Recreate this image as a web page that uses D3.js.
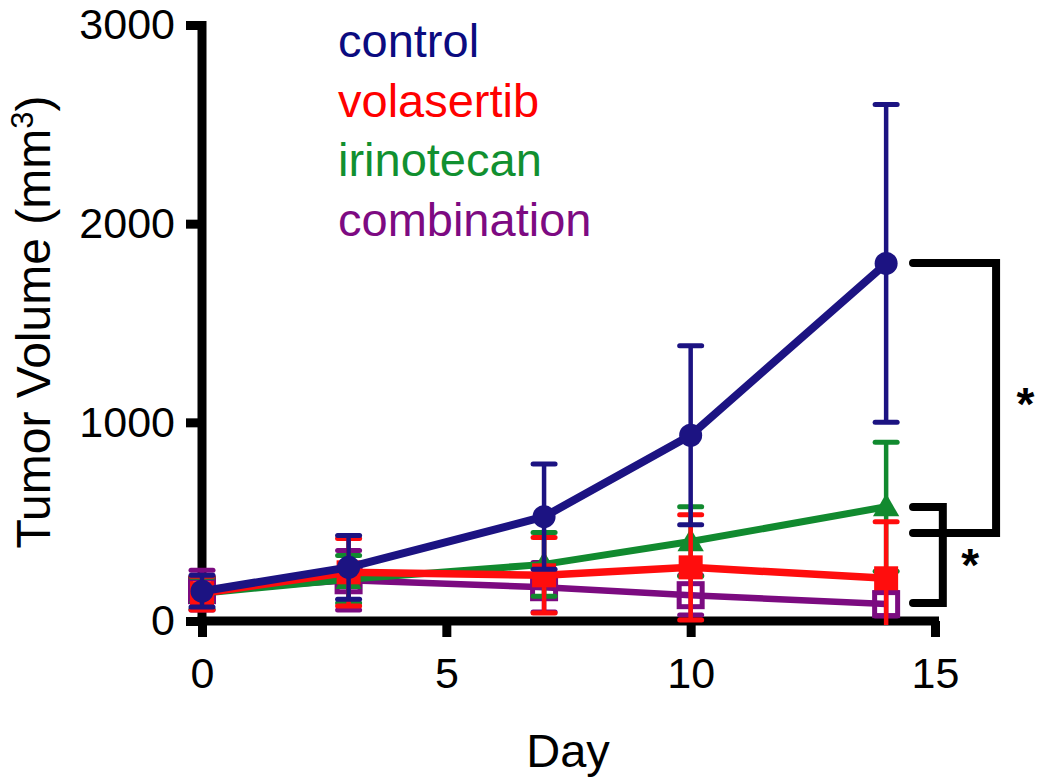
<!DOCTYPE html>
<html>
<head>
<meta charset="utf-8">
<script src="https://cdn.jsdelivr.net/npm/d3@7"></script>
<style>
  html, body { margin: 0; padding: 0; background: #fff; }
  svg { display: block; font-family: 'Liberation Sans', Arial, sans-serif; }
</style>
</head>
<body>
<div id="chart"></div>
<script>
const days = [0, 3, 7, 10, 14];
const controlMean = [150, 270, 525, 935, 1800];
const controlErr = [80, 160, 265, 450, 800];
const volasertibMean = [140, 245, 230, 270, 215];
const volasertibErr = [85, 170, 190, 265, 285];
const irinotecanMean = [140, 210, 285, 400, 575];
const irinotecanErr = [80, 120, 160, 175, 325];
const combinationMean = [155, 205, 170, 130, 85];
const combinationErr = [100, 150, 125, 100, 60];

const xTicks = [0, 5, 10, 15];
const yTicks = [0, 1000, 2000, 3000];
const legendNames = ['control', 'volasertib', 'irinotecan', 'combination'];

// significance brackets: [top value, bottom value, left day, right day]
const brackets = [
  [1802, 443, 14.55, 16.25],
  [574, 91, 14.55, 15.16],
];
const stars = [
  [16.85, 1010],
  [15.72, 200],
];

const width = 1039;
const height = 784;

const colors = {
  control: '#1c1382',
  volasertib: '#ff0d0d',
  irinotecan: '#118a2f',
  combination: '#7b0b80',
};
const textColors = {
  control: '#0b0b80',
  volasertib: '#ff0000',
  irinotecan: '#119030',
  combination: '#7d0a82',
};

const series = [
  { key: 'combination', mean: combinationMean, err: combinationErr, marker: 'open', lw: 6.5 },
  { key: 'irinotecan', mean: irinotecanMean, err: irinotecanErr, marker: 'triangle', lw: 7 },
  { key: 'volasertib', mean: volasertibMean, err: volasertibErr, marker: 'square', lw: 7.5 },
  { key: 'control', mean: controlMean, err: controlErr, marker: 'circle', lw: 8 },
];

const x = d3.scaleLinear().domain([0, 15]).range([202, 935]);
const y = d3.scaleLinear().domain([0, 3000]).range([621, 25]);

const svg = d3
  .select('#chart')
  .append('svg')
  .attr('width', width)
  .attr('height', height);

// axes
const yAxis = svg
  .append('g')
  .attr('transform', `translate(${x(0)}, 0)`)
  .call(
    d3
      .axisLeft(y)
      .tickValues(yTicks)
      .tickFormat(d3.format('d'))
      .tickSize(16)
      .tickSizeOuter(0)
      .tickPadding(11),
  );
const xAxis = svg
  .append('g')
  .attr('transform', `translate(0, ${y(0)})`)
  .call(
    d3
      .axisBottom(x)
      .tickValues(xTicks)
      .tickFormat(d3.format('d'))
      .tickSize(16)
      .tickSizeOuter(0)
      .tickPadding(20),
  );

[xAxis, yAxis].forEach(g => {
  g.select('.domain').attr('stroke', '#000').attr('stroke-width', 9);
  g.selectAll('.tick line').attr('stroke', '#000').attr('stroke-width', 9);
  g.selectAll('.tick text')
    .attr('fill', '#000')
    .style('font-size', '43px')
    .style('font-family', "'Liberation Sans', Arial, sans-serif");
});
// extend the domains so the corner closes
yAxis.select('.domain').attr('d', `M0,${y(0) + 4.5}V${y(3000) - 4}`);
xAxis.select('.domain').attr('d', `M${x(0) - 4.5},0H${x(15) + 4}`);

// axis titles
svg
  .append('text')
  .attr('x', 568)
  .attr('y', 767)
  .attr('text-anchor', 'middle')
  .style('font-size', '47px')
  .text('Day');

const yLabel = svg
  .append('text')
  .attr('transform', 'translate(50, 322) rotate(-90)')
  .attr('text-anchor', 'middle')
  .style('font-size', '48px');
yLabel.append('tspan').text('Tumor Volume (mm');
yLabel.append('tspan').attr('dy', -17).style('font-size', '31px').text('3');
yLabel.append('tspan').attr('dy', 17).text(')');

// data
const line = d3
  .line()
  .x((_, i) => x(days[i]))
  .y(d => y(d));

for (const s of series) {
  const g = svg.append('g').attr('class', `series ${s.key}`);
  const color = colors[s.key];
  const pts = days.map((d, i) => ({ d, m: s.mean[i], e: s.err[i] }));

  g.append('path')
    .attr('d', line(s.mean))
    .attr('fill', 'none')
    .attr('stroke', color)
    .attr('stroke-width', s.lw)
    .attr('stroke-linejoin', 'round');

  const bars = g.selectAll('g.err').data(pts).enter().append('g').attr('class', 'err');
  bars
    .append('line')
    .attr('x1', p => x(p.d))
    .attr('x2', p => x(p.d))
    .attr('y1', p => y(p.m + p.e))
    .attr('y2', p => y(Math.max(p.m - p.e, -20)))
    .attr('stroke', color)
    .attr('stroke-width', 4.5);
  bars
    .selectAll('line.cap')
    .data(p => [p.m + p.e, p.m - p.e].filter(v => v >= 0).map(v => ({ d: p.d, v })))
    .enter()
    .append('line')
    .attr('class', 'cap')
    .attr('x1', c => x(c.d) - 11)
    .attr('x2', c => x(c.d) + 11)
    .attr('y1', c => y(c.v))
    .attr('y2', c => y(c.v))
    .attr('stroke', color)
    .attr('stroke-width', 5)
    .attr('stroke-linecap', 'round');

  const marks = g.selectAll('.mark').data(pts).enter();
  if (s.marker === 'circle') {
    marks
      .append('circle')
      .attr('cx', p => x(p.d))
      .attr('cy', p => y(p.m))
      .attr('r', 11.5)
      .attr('fill', color);
  } else if (s.marker === 'square') {
    marks
      .append('rect')
      .attr('x', p => x(p.d) - 12)
      .attr('y', p => y(p.m) - 12)
      .attr('width', 24)
      .attr('height', 24)
      .attr('fill', color);
  } else if (s.marker === 'open') {
    marks
      .append('rect')
      .attr('x', p => x(p.d) - 11.5)
      .attr('y', p => y(p.m) - 11.5)
      .attr('width', 23)
      .attr('height', 23)
      .attr('fill', 'none')
      .attr('stroke', color)
      .attr('stroke-width', 5);
  } else {
    const tri = d3.symbol().type(d3.symbolTriangle).size(300);
    marks
      .append('path')
      .attr('d', tri)
      .attr('transform', p => `translate(${x(p.d)}, ${y(p.m) + 2})`)
      .attr('fill', color);
  }
}

// significance brackets
for (const [top, bottom, left, right] of brackets) {
  svg
    .append('path')
    .attr('d', `M${x(left)},${y(top)}H${x(right)}V${y(bottom)}H${x(left)}`)
    .attr('fill', 'none')
    .attr('stroke', '#000')
    .attr('stroke-width', 8)
    .attr('stroke-linecap', 'round')
    .attr('stroke-linejoin', 'miter');
}
svg
  .selectAll('text.star')
  .data(stars)
  .enter()
  .append('text')
  .attr('class', 'star')
  .attr('x', d => x(d[0]))
  .attr('y', d => y(d[1]))
  .attr('text-anchor', 'middle')
  .style('font-size', '46px')
  .style('font-weight', 'bold')
  .text('*');

// legend
svg
  .selectAll('text.legend')
  .data(legendNames)
  .enter()
  .append('text')
  .attr('class', 'legend')
  .attr('x', 338)
  .attr('y', (_, i) => 57 + i * 59.5)
  .attr('fill', d => textColors[d])
  .style('font-size', '47px')
  .text(d => d);
</script>
</body>
</html>
